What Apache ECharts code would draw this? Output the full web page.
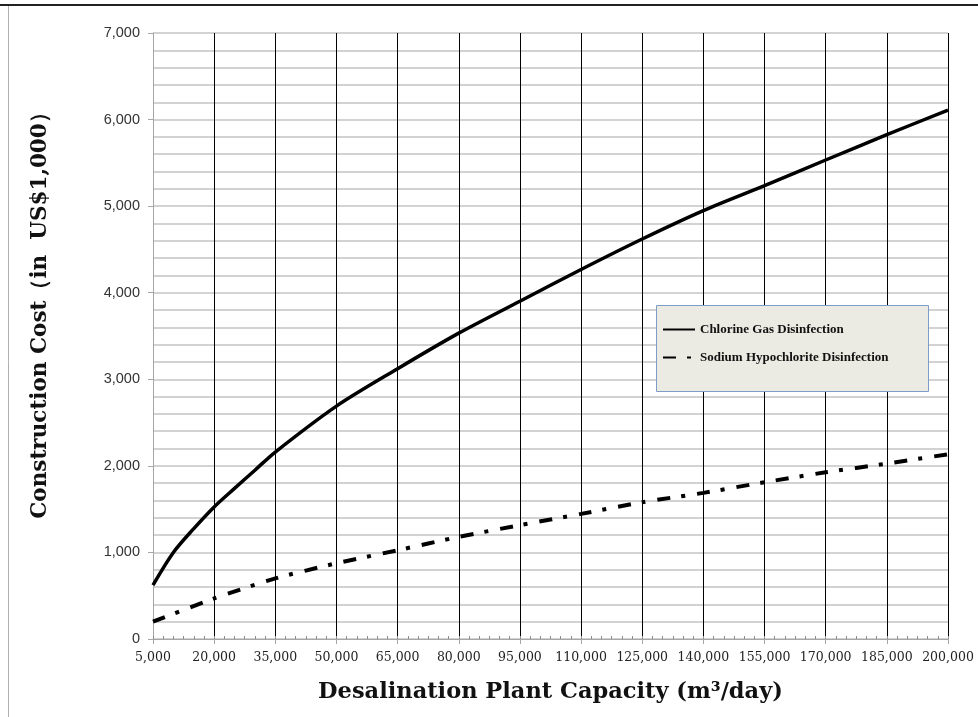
<!DOCTYPE html>
<html>
<head>
<meta charset="utf-8">
<script src="https://cdn.jsdelivr.net/npm/echarts@6/dist/echarts.min.js"></script>
<style>html,body{margin:0;padding:0;background:#fff;}#c{width:978px;height:717px;}</style>
</head>
<body>
<div id="c"></div>
<script>
// Data
const seriesNames = ['Chlorine Gas Disinfection', 'Sodium Hypochlorite Disinfection'];
const chlorineX = [5000, 10000, 15000, 20000, 25000, 30000, 35000, 50000, 65000, 80000, 95000, 110000, 125000, 140000, 155000, 170000, 185000, 200000];
const chlorineY = [623, 1000, 1275, 1526, 1740, 1950, 2160, 2690, 3122, 3533, 3902, 4268, 4620, 4948, 5236, 5533, 5825, 6110];
const hypoX = [5000, 20000, 35000, 50000, 65000, 80000, 95000, 110000, 125000, 140000, 155000, 170000, 185000, 200000];
const hypoY = [200, 469, 700, 875, 1025, 1180, 1315, 1445, 1580, 1688, 1811, 1926, 2026, 2134];
const xMin = 5000, xMax = 200000, xStep = 15000, xMinorStep = 2500;
const yMin = 0, yMax = 7000, yStep = 1000;
const xTitle = 'Desalination Plant Capacity (m\u00b3/day)';
const yTitle = 'Construction Cost\uff08in  US$1,000\uff09';

const pairs = (xs, ys) => xs.map((x, i) => [x, ys[i]]);
const fmt = v => Number(v).toLocaleString('en-US');

const chart = echarts.init(document.getElementById('c'), null, {renderer: 'canvas'});
const nSplit = Math.round((xMax - xMin) / xStep) + 1;
const splitColors = ['#a6a6a6'];
for (let i = 1; i < nSplit; i++) splitColors.push('#000');

chart.setOption({
  animation: false,
  backgroundColor: '#fff',
  grid: {left: 153, right: 30, top: 33, bottom: 78},
  xAxis: [{
    type: 'value', min: xMin, max: xMax, interval: xStep,
    axisLine: {show: true, lineStyle: {color: '#a6a6a6', width: 1}},
    axisTick: {show: true, inside: false, length: 5, lineStyle: {color: '#a6a6a6'}},
    axisLabel: {formatter: fmt, color: '#222', fontFamily: 'DejaVu Serif', fontSize: 12.5, margin: 12},
    splitLine: {show: true, lineStyle: {color: splitColors, width: 1}},
    name: xTitle, nameLocation: 'middle', nameGap: 42,
    nameTextStyle: {fontFamily: 'DejaVu Serif', fontWeight: 'bold', fontSize: 22.5, color: '#111'}
  }, {
    type: 'value', min: xMin, max: xMax, interval: xMinorStep, position: 'bottom',
    axisLine: {show: false}, axisLabel: {show: false}, splitLine: {show: false},
    axisTick: {show: true, inside: true, length: 3, lineStyle: {color: '#8c8c8c'}}
  }],
  yAxis: {
    type: 'value', min: yMin, max: yMax, interval: yStep,
    axisLine: {show: true, lineStyle: {color: '#a6a6a6', width: 1}},
    axisTick: {show: true, length: 5, lineStyle: {color: '#a6a6a6'}},
    axisLabel: {formatter: fmt, color: '#333', fontFamily: 'Liberation Sans', fontSize: 14.5, margin: 13},
    splitLine: {show: true, lineStyle: {color: '#c4c4c4', width: 1.5}},
    minorTick: {show: false, splitNumber: 5},
    minorSplitLine: {show: true, lineStyle: {color: '#c4c4c4', width: 1.5}}
  },
  legend: {
    orient: 'vertical', left: 662, top: 323, itemWidth: 32, itemHeight: 14, itemGap: 15,
    padding: 0, z: 30,
    itemStyle: {opacity: 0},
    textStyle: {fontFamily: 'Liberation Serif', fontWeight: 'bold', fontSize: 13, color: '#111'},
    data: seriesNames
  },
  graphic: [
    {type: 'rect', left: 656, top: 305, shape: {width: 272, height: 86}, z: 20,
     style: {fill: '#ecebe3', stroke: '#7d9dc8', lineWidth: 1}},
    {type: 'text', x: 40, y: 310, rotation: Math.PI / 2, z: 60,
     style: {text: yTitle, fontFamily: 'DejaVu Serif', fontWeight: 'bold', fontSize: 21.5, fill: '#111',
             textAlign: 'center', textVerticalAlign: 'middle'}},
    {type: 'line', shape: {x1: 0, y1: 5, x2: 978, y2: 5}, style: {stroke: '#222', lineWidth: 2}, z: 60},
    {type: 'line', shape: {x1: 8.5, y1: 6, x2: 8.5, y2: 717}, style: {stroke: '#b0b0b0', lineWidth: 1}, z: 60}
  ],
  series: [{
    name: seriesNames[0], type: 'line', data: pairs(chlorineX, chlorineY),
    smooth: 0.3, symbol: 'none', z: 10,
    lineStyle: {color: '#000', width: 3.5}, itemStyle: {color: '#000'}
  }, {
    name: seriesNames[1], type: 'line', data: pairs(hypoX, hypoY),
    smooth: 0.2, symbol: 'none', z: 10,
    lineStyle: {color: '#000', width: 4, type: [13, 11, 4, 12], cap: 'butt'}, itemStyle: {color: '#000'}
  }]
});
</script>
</body>
</html>
